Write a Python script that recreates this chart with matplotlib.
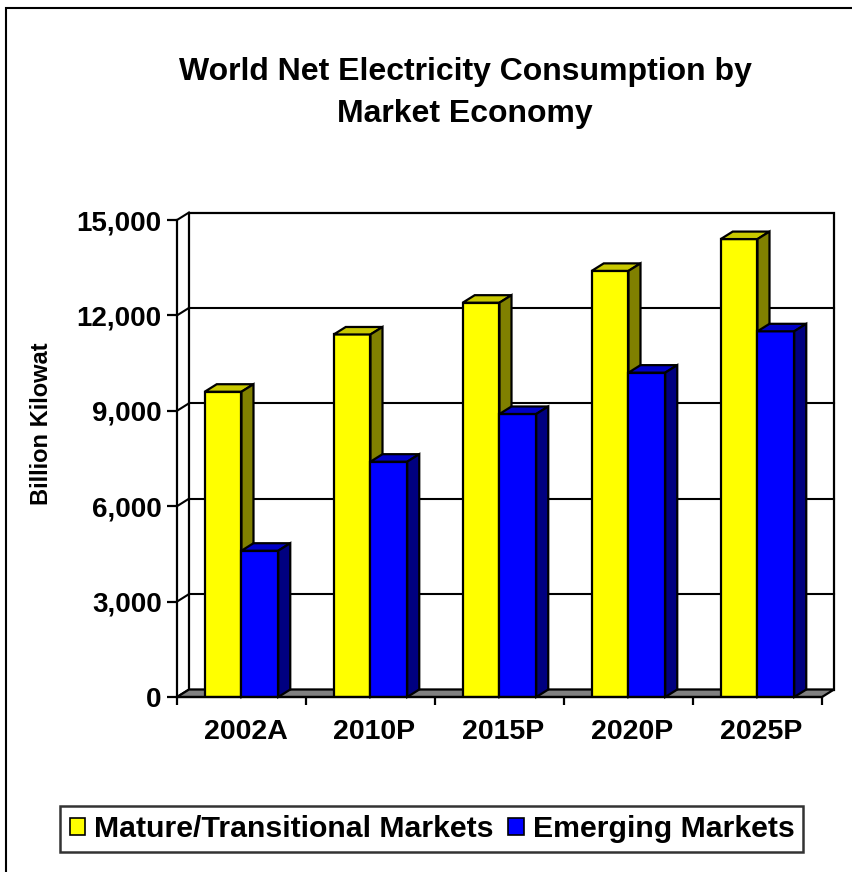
import matplotlib.pyplot as plt
from matplotlib.patches import Polygon, Rectangle, Patch
from matplotlib.ticker import FuncFormatter
from matplotlib.transforms import ScaledTranslation

plt.rcParams['font.family'] = ['Liberation Sans', 'DejaVu Sans']
plt.rcParams['font.weight'] = 'bold'

years = ['2002A', '2010P', '2015P', '2020P', '2025P']
mature = [9600, 11400, 12400, 13400, 14400]
emerging = [4600, 7400, 8900, 10200, 11500]
yticks = [0, 3000, 6000, 9000, 12000, 15000]

W, H = 853, 872
fig = plt.figure(figsize=(W / 100, H / 100), dpi=100)
ax = fig.add_axes([177 / W, 1 - 697 / H, (822 - 177) / W, (697 - 220) / H])
ax.set_xlim(-0.5, 4.5)
ax.set_ylim(0, 15000)

# fake 3d depth: about 12 px right and 7.5 px up
dx = 12 / 129.0
dy = 7.5 / 477.0 * 15000
bw = 0.285
lw = 1.6
x0, x1 = -0.5, 4.5

# back wall + gridlines
ax.add_patch(Rectangle((x0 + dx, dy), x1 - x0, 15000, facecolor='white',
                       edgecolor='black', lw=lw, zorder=0, clip_on=False))
for v in yticks:
    if 0 < v < 15000:
        ax.plot([x0 + dx, x1 + dx], [v + dy, v + dy], color='black', lw=1.5,
                zorder=1, clip_on=False)
    # left side wall
    ax.plot([x0, x0 + dx], [v, v + dy], color='black', lw=1.5, zorder=1, clip_on=False)

# floor
ax.add_patch(Polygon([(x0, 0), (x1, 0), (x1 + dx, dy), (x0 + dx, dy)], closed=True,
                     facecolor='#808080', edgecolor='black', lw=lw, zorder=2, clip_on=False))

z = [3]


def box(left, h, front, top, side):
    ax.bar(left, h, bw, align='edge', color=front, edgecolor='black', lw=lw, zorder=z[0])
    ax.add_patch(Polygon([(left, h), (left + dx, h + dy), (left + bw + dx, h + dy), (left + bw, h)],
                         closed=True, facecolor=top, edgecolor='black', lw=lw,
                         zorder=z[0] + 1, clip_on=False))
    ax.add_patch(Polygon([(left + bw, 0), (left + bw, h), (left + bw + dx, h + dy), (left + bw + dx, dy)],
                         closed=True, facecolor=side, edgecolor='black', lw=lw,
                         zorder=z[0] + 2, clip_on=False))
    z[0] += 3


for i in range(len(years)):
    box(i - bw, mature[i], '#FFFF00', '#C8C800', '#808000')
    box(i, emerging[i], '#0000FF', '#0000C8', '#000080')

for s in ['top', 'right']:
    ax.spines[s].set_visible(False)
for s in ['left', 'bottom']:
    ax.spines[s].set_linewidth(lw)
    ax.spines[s].set_zorder(50)

ax.set_yticks(yticks)
ax.yaxis.set_major_formatter(FuncFormatter(lambda v, p: '{:,.0f}'.format(v)))
ax.tick_params(axis='y', length=7.5, width=lw, pad=3.5, labelsize=20)

ax.set_xticks([x0 + k for k in range(6)])
ax.set_xticklabels([])
ax.set_xticks(range(len(years)), minor=True)
ax.set_xticklabels(years, minor=True)
ax.tick_params(axis='x', which='major', length=6, width=lw)
ax.tick_params(axis='x', which='minor', length=0, pad=16, labelsize=20.5)
for lab in ax.get_xticklabels(minor=True):
    lab.set_transform(lab.get_transform() + ScaledTranslation(0.04, 0, fig.dpi_scale_trans))

fig.text(42 / W, 1 - 424 / H, 'Billion Kilowat', rotation=90, ha='center', va='center', fontsize=17)
fig.text(465 / W, 1 - 93 / H, 'World Net Electricity Consumption by\nMarket Economy',
         ha='center', va='center', fontsize=23, linespacing=1.5)

handles = [Patch(facecolor='#FFFF00', edgecolor='black', lw=1.2),
           Patch(facecolor='#0000FF', edgecolor='black', lw=1.2)]
leg = fig.legend(handles, ['Mature/Transitional Markets', 'Emerging Markets'],
                 loc='center', bbox_to_anchor=(432 / W, 1 - 829 / H), ncol=2,
                 fontsize=21.8, frameon=True, fancybox=False, borderpad=0.3,
                 handlelength=0.5, handleheight=0.5, handletextpad=0.3, columnspacing=0.5)
leg.get_frame().set_edgecolor('black')
leg.get_frame().set_linewidth(1.8)

# outer chart border
fig.add_artist(Rectangle((6 / W, -0.05), 1.0, 1 - 8 / H + 0.05, transform=fig.transFigure,
                         fill=False, edgecolor='black', lw=1.5))

fig.savefig('out.png', dpi=100)
